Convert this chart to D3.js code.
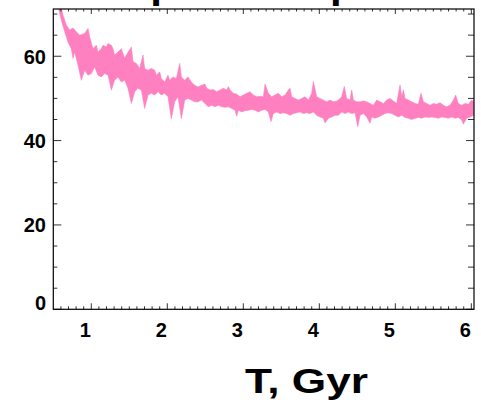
<!DOCTYPE html>
<html>
<head>
<meta charset="utf-8">
<script src="https://cdn.jsdelivr.net/npm/d3@7/dist/d3.min.js"></script>
<style>
  html, body { margin: 0; padding: 0; background: #fff; }
  svg { display: block; }
  text { font-family: "Liberation Sans", Arial, Helvetica, sans-serif; font-weight: bold; fill: #000; }
</style>
</head>
<body>
<svg id="chart" width="481" height="405"></svg>
<script>
// ---- data ----
const xTicks = [1, 2, 3, 4, 5, 6];
const yTicks = [0, 20, 40, 60];
const xLabel = 'T, Gyr';
const titleText = 'Temperature profile';

// upper edge of the band, [T, value]
const upperEdge = [
  [0.585, 73.0], [0.628, 69.7], [0.671, 67.4], [0.715, 66.2], [0.759, 66.7], [0.803, 65.8],
  [0.847, 65.0], [0.913, 65.4], [0.957, 66.6], [0.978, 64.6], [1.022, 61.8], [1.066, 62.6],
  [1.088, 61.0], [1.132, 61.8], [1.154, 62.6], [1.198, 62.2], [1.220, 63.0], [1.264, 62.6],
  [1.285, 61.8], [1.307, 60.3], [1.351, 61.0], [1.395, 61.8], [1.439, 59.5], [1.461, 60.3],
  [1.527, 62.2], [1.549, 58.7], [1.593, 58.3], [1.636, 57.1], [1.680, 60.3], [1.702, 57.1],
  [1.746, 56.7], [1.790, 57.1], [1.834, 56.7], [1.856, 55.5], [1.900, 56.3], [1.921, 54.7],
  [1.965, 53.9], [2.009, 55.5], [2.031, 54.3], [2.075, 55.1], [2.119, 54.7], [2.163, 58.3],
  [2.185, 55.1], [2.229, 54.3], [2.272, 55.1], [2.316, 53.9], [2.360, 53.1], [2.404, 52.7],
  [2.448, 53.1], [2.496, 53.4], [2.518, 52.4], [2.562, 52.0], [2.606, 52.1], [2.650, 51.6],
  [2.693, 52.0], [2.737, 52.4], [2.781, 52.0], [2.803, 52.8], [2.825, 52.0], [2.869, 51.2],
  [2.913, 51.0], [2.957, 50.4], [3.000, 50.8], [3.044, 51.2], [3.088, 51.6], [3.132, 50.8],
  [3.176, 50.4], [3.220, 50.5], [3.264, 50.4], [3.286, 53.4], [3.329, 51.2], [3.373, 50.4],
  [3.417, 50.8], [3.461, 51.2], [3.505, 50.4], [3.549, 50.8], [3.593, 52.0], [3.615, 52.4],
  [3.636, 50.4], [3.680, 50.0], [3.724, 49.6], [3.768, 50.0], [3.812, 50.4], [3.856, 49.6],
  [3.900, 51.2], [3.922, 54.0], [3.965, 50.4], [4.009, 50.0], [4.053, 49.6], [4.097, 49.2],
  [4.141, 49.6], [4.185, 49.2], [4.229, 49.4], [4.250, 49.6], [4.294, 50.4], [4.329, 52.8],
  [4.360, 50.0], [4.404, 49.6], [4.426, 52.0], [4.448, 49.6], [4.492, 49.2], [4.536, 49.2],
  [4.579, 49.4], [4.623, 49.2], [4.667, 48.8], [4.711, 48.4], [4.755, 49.6], [4.799, 49.2],
  [4.843, 48.8], [4.886, 49.6], [4.930, 50.0], [4.974, 49.4], [5.018, 48.8], [5.062, 53.2],
  [5.084, 50.4], [5.106, 52.0], [5.128, 50.0], [5.172, 49.6], [5.215, 49.2], [5.259, 48.8],
  [5.303, 48.6], [5.338, 51.2], [5.369, 49.2], [5.413, 48.8], [5.457, 48.4], [5.501, 48.8],
  [5.544, 48.6], [5.588, 49.0], [5.632, 48.4], [5.676, 48.0], [5.720, 48.4], [5.764, 49.6],
  [5.794, 50.8], [5.829, 48.8], [5.873, 48.4], [5.917, 48.8], [5.961, 48.6], [6.005, 49.6],
  [6.030, 49.2]
];

// lower edge of the band, [T, value]
const lowerEdge = [
  [0.548, 73.0], [0.606, 68.5], [0.650, 65.8], [0.693, 63.4], [0.737, 61.8], [0.759, 59.5],
  [0.781, 61.0], [0.825, 57.9], [0.869, 54.3], [0.913, 56.7], [0.957, 55.5], [1.000, 55.9],
  [1.044, 57.5], [1.088, 55.5], [1.132, 55.1], [1.176, 55.9], [1.220, 55.5], [1.264, 52.0],
  [1.307, 54.3], [1.351, 55.1], [1.395, 53.9], [1.439, 54.3], [1.483, 52.4], [1.527, 48.8],
  [1.571, 51.6], [1.614, 52.4], [1.658, 52.0], [1.702, 47.6], [1.746, 50.8], [1.790, 51.2],
  [1.834, 50.8], [1.878, 51.6], [1.921, 50.8], [1.965, 51.2], [2.009, 50.4], [2.053, 45.2],
  [2.097, 49.2], [2.141, 50.4], [2.185, 45.2], [2.229, 49.6], [2.272, 50.0], [2.316, 49.6],
  [2.360, 49.2], [2.404, 49.2], [2.448, 49.6], [2.496, 48.8], [2.540, 48.0], [2.584, 48.4],
  [2.628, 48.0], [2.672, 48.4], [2.715, 48.0], [2.759, 47.9], [2.803, 48.0], [2.847, 47.6],
  [2.891, 47.2], [2.913, 45.8], [2.935, 47.2], [2.978, 46.8], [3.022, 47.1], [3.066, 47.2],
  [3.110, 47.4], [3.154, 47.2], [3.198, 46.8], [3.242, 47.2], [3.286, 47.4], [3.329, 46.8],
  [3.364, 44.5], [3.395, 46.4], [3.439, 46.8], [3.483, 46.4], [3.527, 46.6], [3.571, 46.4],
  [3.615, 46.0], [3.658, 46.4], [3.702, 46.6], [3.746, 46.8], [3.790, 46.4], [3.834, 46.6],
  [3.878, 46.4], [3.922, 46.8], [3.965, 46.0], [4.009, 45.6], [4.053, 45.3], [4.075, 44.2],
  [4.119, 45.3], [4.163, 45.6], [4.207, 46.0], [4.251, 46.0], [4.294, 46.8], [4.338, 46.4],
  [4.382, 46.8], [4.426, 46.4], [4.470, 46.6], [4.505, 43.3], [4.536, 46.0], [4.579, 46.4],
  [4.623, 45.6], [4.667, 44.1], [4.689, 45.6], [4.733, 45.3], [4.777, 45.6], [4.821, 46.0],
  [4.864, 46.4], [4.908, 46.6], [4.952, 46.4], [4.996, 46.0], [5.040, 45.6], [5.084, 46.0],
  [5.128, 45.5], [5.172, 45.3], [5.215, 45.0], [5.259, 45.3], [5.303, 45.5], [5.347, 45.3],
  [5.391, 45.6], [5.435, 45.5], [5.479, 45.6], [5.522, 45.5], [5.566, 45.3], [5.610, 45.6],
  [5.654, 45.5], [5.698, 45.3], [5.742, 45.6], [5.786, 45.3], [5.829, 45.5], [5.873, 44.9],
  [5.895, 43.9], [5.939, 45.3], [5.983, 45.6], [6.030, 46.0]
];

// ---- layout ----
const X0 = 53.3, X1 = 474, Y0 = 309.3, Y1 = 9;
const BAND_COLOR = '#ff80c0';

const svg = d3.select('#chart');
const x = d3.scaleLinear().domain([0.5, 6.035]).range([X0, X1]);
const y = d3.scaleLinear().domain([0, 71.2]).range([Y0, Y1]);

svg.append('clipPath').attr('id', 'plotclip')
  .append('rect')
  .attr('x', X0).attr('y', Y1)
  .attr('width', X1 - X0).attr('height', Y0 - Y1);

// title sits mostly above the window, only descenders show
svg.append('text')
  .attr('x', 67)
  .attr('y', -3.5)
  .attr('font-size', 42)
  .text(titleText);

// band: upper edge left->right, lower edge back right->left
const line = d3.line().x(d => x(d[0])).y(d => y(d[1]));
const poly = upperEdge.concat(lowerEdge.slice().reverse());
svg.append('path')
  .attr('clip-path', 'url(#plotclip)')
  .attr('d', line(poly) + 'Z')
  .attr('fill', BAND_COLOR)
  .attr('stroke', BAND_COLOR)
  .attr('stroke-width', 0.6)
  .attr('stroke-linejoin', 'round');

// ---- axes (ticks on all four sides, pointing in) ----
const minorX = d3.range(6, 61).map(d => d / 10).filter(d => !xTicks.includes(d));
const minorY = d3.range(5, 71, 5).filter(d => !yTicks.includes(d));
const tickCol = '#333';

function ticks(sel, data, dx1, dy1, dx2, dy2, isX) {
  sel.selectAll(null).data(data).join('line')
    .attr('x1', d => isX ? x(d) : dx1)
    .attr('x2', d => isX ? x(d) : dx2)
    .attr('y1', d => isX ? dy1 : y(d))
    .attr('y2', d => isX ? dy2 : y(d))
    .attr('stroke', tickCol)
    .attr('stroke-width', 1);
}

const axes = svg.append('g');
ticks(axes, xTicks, 0, Y0, 0, Y0 - 6, true);
ticks(axes, minorX, 0, Y0, 0, Y0 - 3, true);
ticks(axes, xTicks, 0, Y1, 0, Y1 + 5, true);
ticks(axes, minorX, 0, Y1, 0, Y1 + 2.5, true);
ticks(axes, yTicks, X0, 0, X0 + 8, 0, false);
ticks(axes, minorY, X0, 0, X0 + 4, 0, false);
ticks(axes, yTicks, X1, 0, X1 - 8, 0, false);
ticks(axes, minorY, X1, 0, X1 - 6, 0, false);

axes.append('rect')
  .attr('x', X0).attr('y', Y1)
  .attr('width', X1 - X0).attr('height', Y0 - Y1)
  .attr('fill', 'none')
  .attr('stroke', '#000')
  .attr('stroke-width', 1.2);

// tick labels
svg.append('g').selectAll('text').data(yTicks).join('text')
  .attr('x', 46)
  .attr('y', d => y(d) + (d === 0 ? 0.7 : 7.5))
  .attr('text-anchor', 'end')
  .attr('font-size', 20)
  .text(d => d);

svg.append('g').selectAll('text').data(xTicks).join('text')
  .attr('x', d => x(d) - 6)
  .attr('y', 336.5)
  .attr('text-anchor', 'middle')
  .attr('font-size', 20)
  .text(d => d);

// axis title
svg.append('text')
  .attr('x', 245)
  .attr('y', 393)
  .attr('font-size', 35)
  .attr('textLength', 123)
  .attr('lengthAdjust', 'spacingAndGlyphs')
  .text(xLabel);
</script>
</body>
</html>
